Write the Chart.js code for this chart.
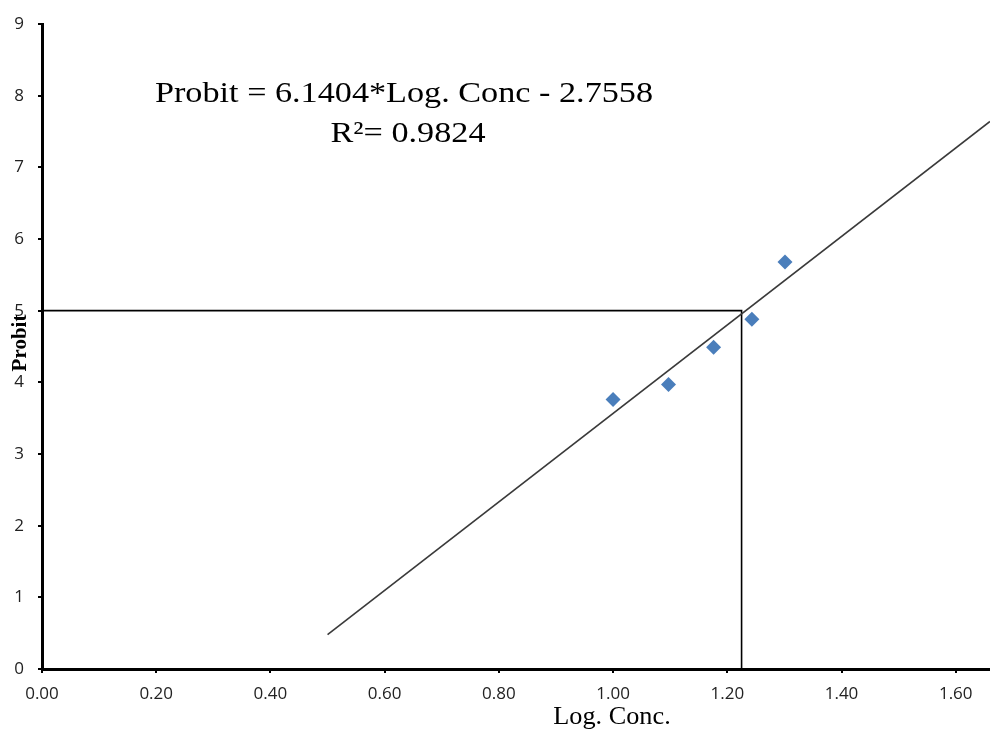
<!DOCTYPE html>
<html>
<head>
<meta charset="utf-8">
<script src="https://cdn.jsdelivr.net/npm/chart.js@4"></script>
<style>
  body { margin: 0; background: #fff; }
  #wrap { width: 990px; height: 729px; position: relative; }
</style>
</head>
<body>
<div id="wrap"><canvas id="probitChart"></canvas></div>
<script>
// data
const logConc = [1.000, 1.097, 1.176, 1.243, 1.301];
const probit = [3.76, 3.97, 4.49, 4.88, 5.68];
const fitX = [0.50, 1.66];
const fitY = [0.48, 7.64];
const lc50X = [0, 1.225, 1.225];
const lc50Y = [5, 5, 0];
const xTicks = [0, 0.2, 0.4, 0.6, 0.8, 1.0, 1.2, 1.4, 1.6];
const yTicks = [0, 1, 2, 3, 4, 5, 6, 7, 8, 9];
const eqLine1 = "Probit = 6.1404*Log. Conc - 2.7558";
const eqLine2 = "R\u00B2= 0.9824";

function pts(xs, ys) {
    return xs.map((x, i) => ({ x: x, y: ys[i] }));
}

function drawText(ctx, text, x, y, font, sx, rot) {
    ctx.save();
    ctx.translate(x, y);
    if (rot) ctx.rotate(rot);
    ctx.scale(sx, 1);
    ctx.font = font;
    ctx.fillStyle = "#000";
    ctx.textAlign = "center";
    ctx.textBaseline = "alphabetic";
    ctx.fillText(text, 0, 0);
    ctx.restore();
}

const textPlugin = {
    id: "texts",
    afterDraw(chart) {
        const ctx = chart.ctx;
        drawText(ctx, eqLine1, 404, 102, "30px 'Liberation Serif'", 1.14);
        drawText(ctx, eqLine2, 408, 142, "30px 'Liberation Serif'", 1.14);
        drawText(ctx, "Log. Conc.", 612, 724, "25px 'Liberation Serif'", 1.05);
        drawText(ctx, "Probit", 26, 343, "bold 21px 'Liberation Serif'", 1, -Math.PI / 2);
    }
};

const tickFont = { family: "'Open Sans'", size: 17 };

function noPad(s) {
    s.paddingLeft = 0;
    s.paddingRight = 0;
    s.paddingTop = 0;
    s.paddingBottom = 0;
}

const ctx = document.getElementById("probitChart").getContext("2d");
const probitChart = new Chart(ctx, {
    type: "scatter",
    data: {
        datasets: [{
            label: "Observed",
            data: pts(logConc, probit),
            pointStyle: "rectRot",
            pointRadius: 7.5,
            pointHoverRadius: 7.5,
            backgroundColor: "#4a7ebb",
            borderColor: "#4a7ebb",
            borderWidth: 0,
            order: 0
        }, {
            label: "Fit",
            data: pts(fitX, fitY),
            showLine: true,
            pointRadius: 0,
            borderColor: "#3a3a3a",
            borderWidth: 1.6,
            order: 1
        }, {
            label: "LC50",
            data: pts(lc50X, lc50Y),
            showLine: true,
            pointRadius: 0,
            borderColor: "#000",
            borderWidth: 1.6,
            order: 2
        }]
    },
    options: {
        responsive: true,
        maintainAspectRatio: false,
        animation: false,
        layout: { autoPadding: false, padding: { top: 24, right: 0, left: 0, bottom: 0 } },
        plugins: {
            legend: { display: false },
            tooltip: { enabled: false }
        },
        scales: {
            x: {
                type: "linear",
                min: 0,
                max: 1.66,
                afterBuildTicks: (s) => { s.ticks = xTicks.map(v => ({ value: v })); },
                afterFit: (s) => { s.height = 60; noPad(s); },
                border: { color: "#000", width: 3 },
                grid: { drawOnChartArea: false, drawTicks: true, tickLength: 4, color: "#000", lineWidth: 2 },
                ticks: {
                    font: tickFont,
                    color: "#222",
                    padding: 11,
                    maxRotation: 0,
                    callback: (v) => v.toFixed(2)
                }
            },
            y: {
                type: "linear",
                min: 0,
                max: 9,
                afterBuildTicks: (s) => { s.ticks = yTicks.map(v => ({ value: v })); },
                afterFit: (s) => { s.width = 42; noPad(s); },
                border: { color: "#000", width: 3 },
                grid: { drawOnChartArea: false, drawTicks: true, tickLength: 4, color: "#000", lineWidth: 2 },
                ticks: {
                    font: tickFont,
                    color: "#222",
                    padding: 14
                }
            }
        }
    },
    plugins: [textPlugin]
});
</script>
</body>
</html>
